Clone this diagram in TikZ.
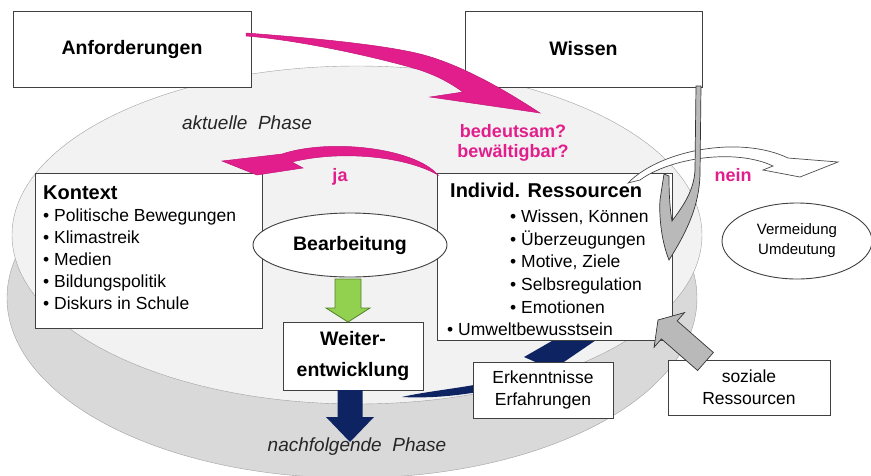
\documentclass[tikz,border=0pt]{standalone}
\usepackage{fontspec}
\setmainfont{Liberation Sans}
\usetikzlibrary{positioning,shapes.geometric}

\definecolor{rosa}{RGB}{226,30,140}
\definecolor{marine}{RGB}{14,36,98}
\definecolor{hellgruen}{RGB}{146,208,80}
\definecolor{dunkelgruen}{RGB}{84,130,42}
\definecolor{rand}{RGB}{64,64,64}
\definecolor{phaseoben}{RGB}{242,242,242}
\definecolor{phaseunten}{RGB}{217,217,217}
\definecolor{phaserand}{RGB}{160,160,160}

\newcommand\fett{\fontsize{20}{22}\selectfont\bfseries}

\tikzset{
  kasten/.style={draw=rand, fill=white, line width=1pt, inner sep=0pt},
  oval/.style={ellipse, draw=rand, fill=white, line width=0.9pt, inner sep=0pt},
  titel/.style={font=\fontsize{19.5}{23}\selectfont\bfseries},
  liste/.style={font=\fontsize{17.5}{22}\selectfont, align=left, inner sep=0pt, anchor=north west},
  phase/.style={font=\fontsize{19}{22}\selectfont\itshape, text=black!85},
  frage/.style={text=rosa, font=\fontsize{18}{19.5}\selectfont\bfseries, align=center},
  pinkpfeil/.style={fill=rosa, draw=rosa!85!black, line width=0.5pt},
  weisspfeil/.style={fill=white, draw=gray!60!black, line width=0.7pt},
  graupfeil/.style={fill=gray!55, draw=gray!40!black, line width=0.7pt},
}

\begin{document}
\begin{tikzpicture}[x=1pt, y=-1pt]
\useasboundingbox (0,0) rectangle (871,475);

% die beiden Phasen
\filldraw[fill=phaseunten, draw=phaserand] (352,298) ellipse [x radius=345pt, y radius=180pt];
\filldraw[fill=phaseoben, draw=phaserand] (357,235) ellipse [x radius=345pt, y radius=169pt];
\node[phase] (aktuell) at (247,123) {aktuelle\ \ Phase};
\node[phase] (nachfolgend) at (357,447) {nachfolgende\ \ Phase};

% Erkenntnisse -> Ressourcen (liegt hinter den Kaesten)
\fill[marine] (402,397) .. controls (440,388) and (510,385) .. (540,364) -- (524,357) -- (585,322)
  -- (602,336) -- (558,366) .. controls (525,385) and (460,400) .. (402,397) -- cycle;

% Kaesten
\node[kasten, titel, minimum width=238pt, minimum height=76pt] (anf) at (132,49) {Anforderungen};
\node[kasten, titel, minimum width=237pt, minimum height=76pt] (wissen) at (583.5,49) {Wissen};

\node[kasten, minimum width=227pt, minimum height=155pt, anchor=north west] (kontext) at (35,173) {};
\node[liste] (kontextliste) at (43,186) {{\fett Kontext}\\
  \textbullet\ Politische Bewegungen\\
  \textbullet\ Klimastreik\\
  \textbullet\ Medien\\
  \textbullet\ Bildungspolitik\\
  \textbullet\ Diskurs in Schule};

\node[kasten, minimum width=235pt, minimum height=167pt, anchor=north west] (indiv) at (437,173) {};
\node[liste, font=\fontsize{17.5}{22.6}\selectfont] (indivliste) at (447,183) {\hspace*{3pt}{\fett Individ. Ressourcen}\\[2.4pt]
  \hspace*{63pt}\textbullet\ Wissen, Können\\
  \hspace*{63pt}\textbullet\ Überzeugungen\\
  \hspace*{63pt}\textbullet\ Motive, Ziele\\
  \hspace*{63pt}\textbullet\ Selbsregulation\\
  \hspace*{63pt}\textbullet\ Emotionen\\
  \textbullet\ Umweltbewusstsein};

\node[oval, titel, minimum width=194pt, minimum height=64pt] (bearb) at (350,245) {Bearbeitung};
\node[kasten, font=\fontsize{19.5}{31}\selectfont\bfseries, align=center, minimum width=140pt, minimum height=68pt] (weiter) at (353,356) {Weiter-\\entwicklung};
\node[kasten, font=\fontsize{17.5}{21.5}\selectfont, align=center, minimum width=140pt, minimum height=56pt] (erk) at (543,390) {Erkenntnisse\\Erfahrungen};
\node[kasten, font=\fontsize{17.5}{22}\selectfont, align=center, minimum width=162pt, minimum height=55pt] (sozial) at (749,387.5) {soziale\\Ressourcen};
\node[oval, font=\fontsize{15}{20}\selectfont, align=center, minimum width=150pt, minimum height=76pt] (verm) at (797,241) {Vermeidung\\Umdeutung};

% Fragen
\node[frage] (bewertung) at (513,143) {bedeutsam?\\bewältigbar?};
\node[frage] (ja) at (340,177) {ja};
\node[frage] (nein) at (733,175) {nein};

% Pfeile
\filldraw[pinkpfeil] (246,33) .. controls (300,37) and (380,44) .. (420,54) .. controls (460,64) and (505,90) .. (540,113)
  -- (430,97) -- (463,92) .. controls (450,83) and (440,77) .. (420,70) .. controls (380,58) and (300,40) .. (246,36) -- cycle;
\filldraw[pinkpfeil] (438,175) .. controls (415,148) and (330,138) .. (282,154) -- (222,161) -- (257,175) -- (303,168)
  -- (292,162) .. controls (340,150) and (405,156) .. (438,175) -- cycle;
\filldraw[weisspfeil] (628,183) .. controls (660,150) and (740,135) .. (788,158) -- (838,162) -- (800,177) -- (763,170)
  -- (773,166) .. controls (735,148) and (670,158) .. (640,180) -- cycle;
\filldraw[graupfeil] (696,86) -- (701,86) -- (700,175) .. controls (699,205) and (688,230) .. (669,260)
  .. controls (661,240) and (659,215) .. (660,200) -- (664,174) -- (669,176)
  .. controls (669,195) and (670,210) .. (672,221) .. controls (684,205) and (694,190) .. (695,170) -- cycle;
\filldraw[graupfeil] (658,320) -- (684.5,312.6) -- (677.2,320.9) -- (713.4,352.5) -- (697.6,370.5)
  -- (661.4,338.9) -- (654.1,347.2) -- cycle;
\filldraw[fill=hellgruen, draw=dunkelgruen, line width=0.8pt] (335,279) -- (361,279) -- (361,308) -- (370,308)
  -- (348,322) -- (326,308) -- (335,308) -- cycle;
\fill[marine] (337.5,390) -- (362.5,390) -- (362.5,417) -- (374,417) -- (350,442) -- (326,417) -- (337.5,417) -- cycle;
\end{tikzpicture}
\end{document}
